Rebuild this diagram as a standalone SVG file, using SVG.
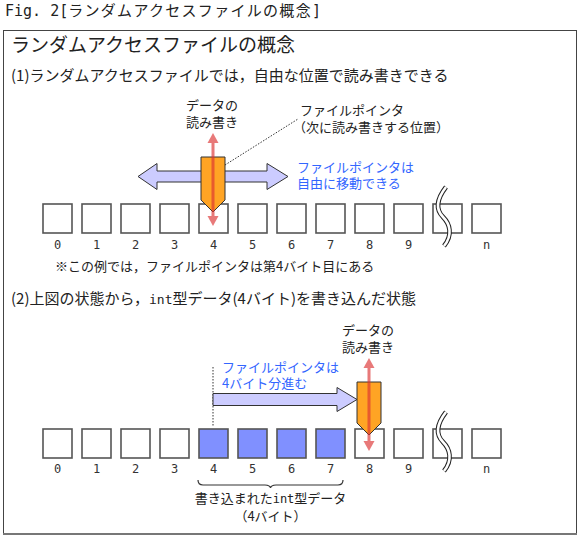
<svg xmlns="http://www.w3.org/2000/svg" width="579" height="537" viewBox="0 0 579 537">
<style>
  .jp { font-family: "Noto Sans CJK JP", "Noto Sans", sans-serif; fill: #222; }
  .mono { font-family: "DejaVu Sans Mono", "Liberation Mono", monospace; }
  .ann { font-size: 13px; }
  .body { font-size: 15px; }
  .blue { fill: #3366ff; }
  .digit { font-family: "DejaVu Sans Mono", "Liberation Mono", monospace; font-size: 12px; fill: #333; text-anchor: middle; }
  .box { fill: #fff; stroke: #555; stroke-width: 1.6; }
  .filled { fill: #8090ff; }
  .ptr { fill: #ffa424; stroke: #333; stroke-width: 1; }
  .move { fill: #ccccff; stroke: #333; stroke-width: 1; }
  .rw { fill: #dd3333; stroke: none; }
  .dots { fill: none; stroke: #333; stroke-width: 1; stroke-dasharray: 1.5 1.5; }
</style>

<!-- Title -->
<text x="5" y="16" class="jp" font-size="15"><tspan class="mono">Fig. 2[</tspan><tspan letter-spacing="1.3">ランダムアクセスファイルの概念</tspan><tspan class="mono">]</tspan></text>

<!-- Frame -->
<rect x="3.5" y="30.5" width="573" height="503" fill="#fff" stroke="#444" stroke-width="1"/>
<line x1="3" y1="534" x2="577" y2="534" stroke="#777" stroke-width="2"/>

<text x="11" y="52" class="jp" font-size="19">ランダムアクセスファイルの概念</text>
<text x="11" y="81" class="jp body">(1)ランダムアクセスファイルでは，自由な位置で読み書きできる</text>

<!-- Section 1 boxes -->
<g id="row1">
  <rect class="box" x="43" y="204" width="29" height="29"/>
  <rect class="box" x="82" y="204" width="29" height="29"/>
  <rect class="box" x="121" y="204" width="29" height="29"/>
  <rect class="box" x="160" y="204" width="29" height="29"/>
  <rect class="box" x="199" y="204" width="29" height="29"/>
  <rect class="box" x="238" y="204" width="29" height="29"/>
  <rect class="box" x="277" y="204" width="29" height="29"/>
  <rect class="box" x="316" y="204" width="29" height="29"/>
  <rect class="box" x="355" y="204" width="29" height="29"/>
  <rect class="box" x="394" y="204" width="29" height="29"/>
  <rect class="box" x="433" y="204" width="29" height="29"/>
  <rect class="box" x="472" y="204" width="29" height="29"/>
  <path d="M446,187 C436,200 436,210 443,217 S453,235 444,246" fill="none" stroke="#222" stroke-width="4.6"/>
  <path d="M446,187 C436,200 436,210 443,217 S453,235 444,246" fill="none" stroke="#fff" stroke-width="2.6"/>
  <text class="digit" x="57.5" y="249">0</text>
  <text class="digit" x="96.5" y="249">1</text>
  <text class="digit" x="135.5" y="249">2</text>
  <text class="digit" x="174.5" y="249">3</text>
  <text class="digit" x="213.5" y="249">4</text>
  <text class="digit" x="252.5" y="249">5</text>
  <text class="digit" x="291.5" y="249">6</text>
  <text class="digit" x="330.5" y="249">7</text>
  <text class="digit" x="369.5" y="249">8</text>
  <text class="digit" x="408.5" y="249">9</text>
  <text class="digit" x="486.5" y="249">n</text>
</g>

<!-- Section 1 pointer -->
<g id="pointer1">
  <polygon class="move" points="138,176.5 157,163.5 157,171 267,171 267,163.5 288,176.5 267,189.5 267,182 157,182 157,189.5"/>
  <polygon class="ptr" points="201,157 225,157 225,200 213,212 201,200"/>
  <g opacity="0.65">
    <rect class="rw" x="211.5" y="141" width="3" height="77"/>
    <polygon class="rw" points="213,133 207.5,143 218.5,143"/>
    <polygon class="rw" points="213,226 207.5,216 218.5,216"/>
  </g>
  <line class="dots" x1="225" y1="165" x2="298" y2="119"/>
</g>

<g id="labels1">
  <text x="212" y="110" class="jp ann" text-anchor="middle">データの</text>
  <text x="212" y="127" class="jp ann" text-anchor="middle">読み書き</text>
  <text x="300" y="115" class="jp ann">ファイルポインタ</text>
  <text x="293" y="132" class="jp ann">（次に読み書きする位置）</text>
  <text x="297" y="172" class="jp ann blue">ファイルポインタは</text>
  <text x="297" y="188" class="jp ann blue">自由に移動できる</text>
  <text x="55" y="271" class="jp ann">※この例では，ファイルポインタは第4バイト目にある</text>
</g>

<!-- Section 2 -->
<text x="11" y="304" class="jp body">(2)上図の状態から，<tspan class="mono" font-size="13">int</tspan>型データ(4バイト)を書き込んだ状態</text>

<g id="row2">
  <rect class="box" x="43" y="429" width="29" height="29"/>
  <rect class="box" x="82" y="429" width="29" height="29"/>
  <rect class="box" x="121" y="429" width="29" height="29"/>
  <rect class="box" x="160" y="429" width="29" height="29"/>
  <rect class="box filled" x="199" y="429" width="29" height="29"/>
  <rect class="box filled" x="238" y="429" width="29" height="29"/>
  <rect class="box filled" x="277" y="429" width="29" height="29"/>
  <rect class="box filled" x="316" y="429" width="29" height="29"/>
  <rect class="box" x="355" y="429" width="29" height="29"/>
  <rect class="box" x="394" y="429" width="29" height="29"/>
  <rect class="box" x="433" y="429" width="29" height="29"/>
  <rect class="box" x="472" y="429" width="29" height="29"/>
  <path d="M446,412 C436,425 436,435 443,442 S453,460 444,471" fill="none" stroke="#222" stroke-width="4.6"/>
  <path d="M446,412 C436,425 436,435 443,442 S453,460 444,471" fill="none" stroke="#fff" stroke-width="2.6"/>
  <text class="digit" x="57.5" y="473">0</text>
  <text class="digit" x="96.5" y="473">1</text>
  <text class="digit" x="135.5" y="473">2</text>
  <text class="digit" x="174.5" y="473">3</text>
  <text class="digit" x="213.5" y="473">4</text>
  <text class="digit" x="252.5" y="473">5</text>
  <text class="digit" x="291.5" y="473">6</text>
  <text class="digit" x="330.5" y="473">7</text>
  <text class="digit" x="369.5" y="473">8</text>
  <text class="digit" x="408.5" y="473">9</text>
  <text class="digit" x="486.5" y="473">n</text>
</g>

<g id="connectors">
  <line class="dots" x1="213" y1="367" x2="213" y2="427"/>
  <path d="M198,480 Q198,485 203,485 L265,485 Q270,485 270.5,488 Q271,485 276,485 L338,485 Q343,485 343,480" fill="none" stroke="#333" stroke-width="1.2"/>
</g>

<g id="pointer2">
  <polygon class="move" points="213,393.5 337,393.5 337,387.5 357,399.5 337,411.5 337,405.5 213,405.5"/>
  <polygon class="ptr" points="357,382 381,382 381,423 369,435 357,423"/>
  <g opacity="0.65">
    <rect class="rw" x="367.5" y="366" width="3" height="77"/>
    <polygon class="rw" points="369,358 363.5,368 374.5,368"/>
    <polygon class="rw" points="369,451 363.5,441 374.5,441"/>
  </g>
</g>

<g id="labels2">
  <text x="368" y="335" class="jp ann" text-anchor="middle">データの</text>
  <text x="368" y="352" class="jp ann" text-anchor="middle">読み書き</text>
  <text x="222" y="372" class="jp ann blue">ファイルポインタは</text>
  <text x="222" y="388" class="jp ann blue">4バイト分進む</text>
  <text x="270.5" y="503" class="jp ann" text-anchor="middle">書き込まれた<tspan class="mono" font-size="12">int</tspan>型データ</text>
  <text x="270.5" y="521" class="jp ann" text-anchor="middle">（4バイト）</text>
</g>
</svg>
